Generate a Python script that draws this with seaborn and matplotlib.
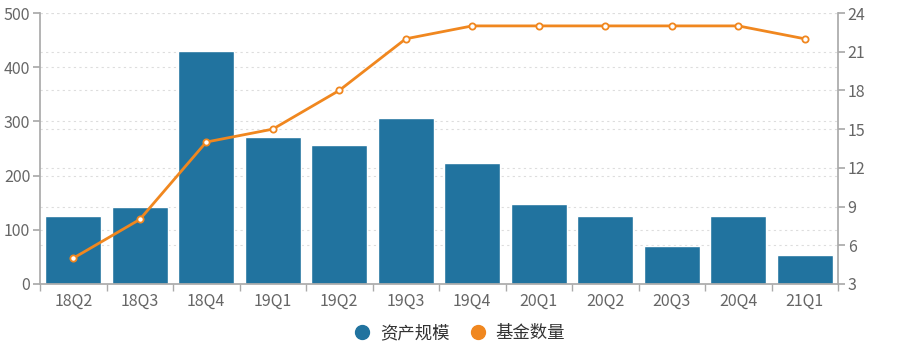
import matplotlib
matplotlib.use("Agg")
import matplotlib.pyplot as plt
import seaborn as sns
import pandas as pd
from matplotlib.lines import Line2D

categories = ["18Q2", "18Q3", "18Q4", "19Q1", "19Q2", "19Q3", "19Q4", "20Q1", "20Q2", "20Q3", "20Q4", "21Q1"]
asset_scale = [125, 142, 430, 271, 256, 306, 223, 148, 125, 70, 125, 54]
fund_count = [5, 8, 14, 15, 18, 22, 23, 23, 23, 23, 23, 22]
left_ticks = [0, 100, 200, 300, 400, 500]
right_ticks = [3, 6, 9, 12, 15, 18, 21, 24]
series_names = ["资产规模", "基金数量"]

BAR_COLOR = "#21739f"
LINE_COLOR = "#f0871f"
AXIS_COLOR = "#aaaaaa"
TEXT_COLOR = "#666666"

sns.set_theme(style="white")
plt.rcParams["font.family"] = ["Noto Sans CJK SC", "DejaVu Sans"]

df = pd.DataFrame({"q": categories, "asset": asset_scale, "count": fund_count})

fig = plt.figure(figsize=(9.08, 3.52), dpi=100)
ax = fig.add_axes([40 / 908, 1 - 284 / 352, (838 - 40) / 908, (284 - 13) / 352])
sns.barplot(data=df, x="q", y="asset", color=BAR_COLOR, width=0.84, ax=ax, saturation=1, zorder=2)
ax.set_ylim(0, 500)
ax.set_yticks(left_ticks)
ax.set_xlim(-0.5, len(categories) - 0.5)

ax2 = ax.twinx()
sns.lineplot(x=list(range(len(categories))), y=fund_count, ax=ax2, color=LINE_COLOR,
             linewidth=2, marker="o", markersize=4.5, markerfacecolor="white",
             markeredgecolor=LINE_COLOR, markeredgewidth=1.3)
ax2.set_ylim(3, 24)
ax2.set_yticks(right_ticks)

# dotted grids for both axes, drawn behind the bars
for y in left_ticks[1:]:
    ax.axhline(y, color="#dddddd", linestyle=(0, (2, 3)), linewidth=0.8, zorder=0)
for r in right_ticks[1:]:
    y = (r - 3) / (24 - 3) * 500
    ax.axhline(y, color="#dddddd", linestyle=(0, (2, 3)), linewidth=0.8, zorder=0)

for a in (ax, ax2):
    a.spines["top"].set_visible(False)
    a.set_xlabel("")
    a.set_ylabel("")
ax.spines["right"].set_visible(False)
ax2.spines["left"].set_visible(False)
ax2.spines["bottom"].set_visible(False)
ax.spines["left"].set_color(AXIS_COLOR)
ax.spines["bottom"].set_color(AXIS_COLOR)
ax2.spines["right"].set_color(AXIS_COLOR)

ax.tick_params(axis="y", length=5, color=AXIS_COLOR, labelcolor=TEXT_COLOR, labelsize=11.5, left=True, pad=2)
ax2.tick_params(axis="y", length=5, color=AXIS_COLOR, labelcolor=TEXT_COLOR, labelsize=11.5, right=True, pad=2)
ax.set_xticks([i - 0.5 for i in range(len(categories) + 1)], minor=True)
ax.tick_params(axis="x", which="minor", length=5, color=AXIS_COLOR, bottom=True)
ax.tick_params(axis="x", which="major", length=0, labelcolor=TEXT_COLOR, labelsize=11.5, pad=6)

handles = [Line2D([], [], marker="o", linestyle="", color=BAR_COLOR, markersize=10),
           Line2D([], [], marker="o", linestyle="", color=LINE_COLOR, markersize=10)]
fig.legend(handles, series_names, loc="center", bbox_to_anchor=(455 / 908, 1 - 333 / 352),
           ncol=2, frameon=False, fontsize=12.5, handletextpad=0.05, columnspacing=0.6,
           labelcolor="#333333")

fig.savefig("out.png", dpi=100)
